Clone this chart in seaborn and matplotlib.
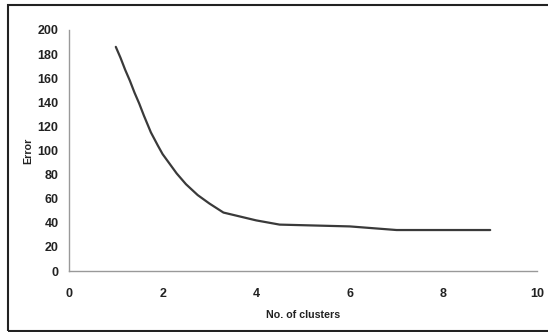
import matplotlib
matplotlib.use("Agg")
import matplotlib.pyplot as plt
import seaborn as sns
import pandas as pd
from matplotlib.patches import Rectangle

clusters = [1.0, 1.1, 1.2, 1.3, 1.4, 1.5, 1.6, 1.75, 1.9, 2.0, 2.15, 2.3, 2.5, 2.75, 3.0, 3.3, 4.0, 4.5, 5.0, 6.0, 7.0, 8.0, 9.0]
error = [186, 177, 167, 158, 148, 139, 129, 115, 104, 97, 89, 81, 72, 63, 56, 48.5, 42, 38.5, 38, 37, 34, 34, 34]
xticks = [0, 2, 4, 6, 8, 10]
yticks = [0, 20, 40, 60, 80, 100, 120, 140, 160, 180, 200]

sns.set_style("white")
plt.rcParams['font.family'] = ['Liberation Sans', 'DejaVu Sans']

df = pd.DataFrame({"clusters": clusters, "error": error})

fig = plt.figure(figsize=(5.48, 3.32), dpi=100)
ax = fig.add_axes([69/548, 61/332, (537-69)/548, (271-30)/332])
sns.lineplot(data=df, x="clusters", y="error", ax=ax, color="#3a3a3a", linewidth=1.6)

ax.set_xlim(0, 10)
ax.set_ylim(0, 200)
ax.set_xticks(xticks)
ax.set_yticks(yticks)
ax.set_xticklabels([str(t) for t in xticks], fontsize=9, fontweight="bold", color="#222222")
ax.set_yticklabels([str(t) for t in yticks], fontsize=9, fontweight="bold", color="#222222")
ax.set_xlabel("No. of clusters", fontsize=7.7, fontweight="bold", color="#222222", labelpad=7)
ax.set_ylabel("Error", fontsize=7.7, fontweight="bold", color="#222222", labelpad=3)
for s in ["top", "right"]:
    ax.spines[s].set_visible(False)
for s in ["left", "bottom"]:
    ax.spines[s].set_color("#999999")
    ax.spines[s].set_linewidth(1.0)
ax.tick_params(axis="both", which="major", direction="out", length=3.5, width=0.8, color="#999999")
ax.tick_params(axis="x", pad=9)
ax.tick_params(axis="y", pad=4)
ax.grid(False)

frame = Rectangle((7.5/548, 1/332), 0.99, (331-5)/332, transform=fig.transFigure,
                  fill=False, edgecolor="#222222", linewidth=1.5, clip_on=False)
fig.patches.append(frame)

fig.savefig("out.png", dpi=100)
